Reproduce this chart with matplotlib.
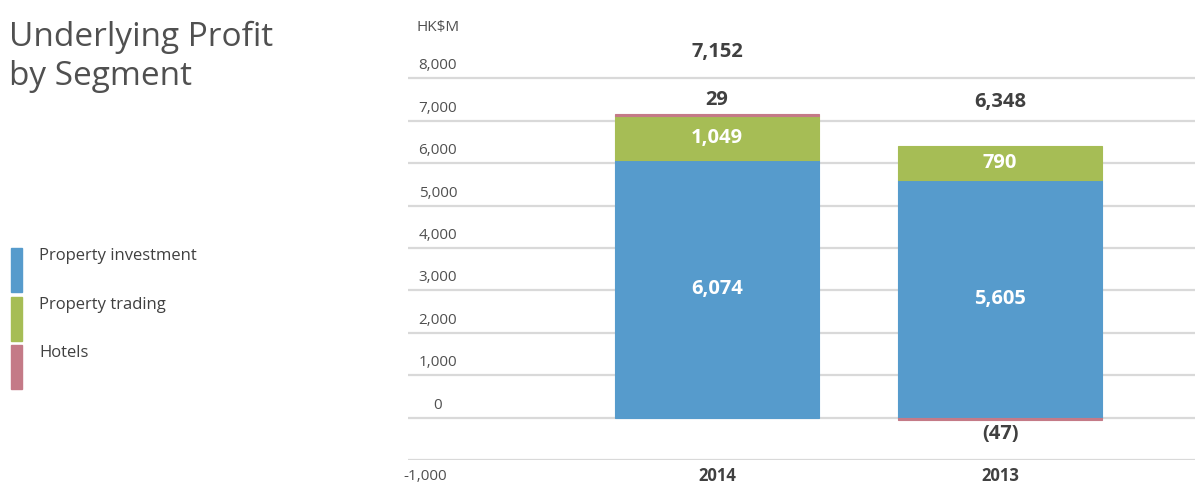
import numpy as np
import matplotlib.pyplot as plt
from matplotlib.patches import Rectangle
from matplotlib.transforms import blended_transform_factory

# data (HK$M)
years = ['2014', '2013']
segments = ['Property investment', 'Property trading', 'Hotels']
prop_investment = [6074, 5605]
prop_trading = [1049, 790]
hotels = [29, -47]
totals = [7152, 6348]
yticks = [-1000, 0, 1000, 2000, 3000, 4000, 5000, 6000, 7000, 8000]

colors = ['#569BCC', '#A6BD55', '#C47A87']
dark = '#404040'

W, H = 1195, 486
fig = plt.figure(figsize=(W / 100, H / 100), dpi=100)


def fx(px):
    return px / W


def fy(py):
    return (H - py) / H


plt.rcParams['font.family'] = ['Open Sans', 'DejaVu Sans']
bold_num = ['Liberation Sans Narrow', 'Open Sans', 'DejaVu Sans']

# axes area: -1,000 gridline at y=460px, 9,000 would be at ~36px
ax = fig.add_axes([fx(408), fy(460), fx(1195) - fx(408), fy(36) - fy(460)])
ax.set_ylim(-1000, 9000)
ax.set_xlim(-1.092, 1.689)
for s in ax.spines.values():
    s.set_visible(False)
ax.set_yticks([])
ax.set_xticks([0, 1])
ax.set_xticklabels(years, fontweight='bold', color=dark, fontsize=12, family=bold_num)
ax.tick_params(axis='x', length=0, pad=5)

# gridlines + tick labels drawn as text
for v in yticks:
    ax.axhline(v, color='#d9d9d9', lw=1.6, zorder=0)
trans = blended_transform_factory(ax.transAxes, ax.transData)
for v in yticks:
    lab = '{:,}'.format(v)
    if v < 0:
        ax.annotate(lab, (0, v), xycoords=trans, xytext=(-5, -9), textcoords='offset pixels',
                    ha='left', va='top', fontsize=11, color='#505050')
    else:
        ax.annotate(lab, (0.038, v), xycoords=trans, xytext=(0, 5), textcoords='offset pixels',
                    ha='center', va='bottom', fontsize=11, color='#505050')
ax.annotate('HK$M', (0.038, 1), xycoords='axes fraction', xytext=(0, 1), textcoords='offset pixels',
            ha='center', va='bottom', fontsize=11, color='#505050')

x = np.arange(len(years))
bw = 0.724
series = [prop_investment, prop_trading, hotels]
pos_base = np.zeros(len(years))
neg_base = np.zeros(len(years))
for vals, c in zip(series, colors):
    vals = np.array(vals, dtype=float)
    bottoms = np.where(vals >= 0, pos_base, neg_base)
    ax.bar(x, vals, bw, bottom=bottoms, color=c, edgecolor=c, lw=0.8, zorder=2)
    for i, v in enumerate(vals):
        if abs(v) >= 300:
            ax.text(x[i], bottoms[i] + v / 2, '{:,}'.format(int(v)), ha='center', va='center',
                    color='white', fontweight='bold', fontsize=14.5, family=bold_num, zorder=3)
        elif v >= 0:
            ax.annotate('{:,}'.format(int(v)), (x[i], bottoms[i] + v), xytext=(0, 4),
                        textcoords='offset pixels', ha='center', va='bottom', color=dark,
                        fontweight='bold', fontsize=14.5, family=bold_num)
        else:
            ax.annotate('({:,})'.format(int(-v)), (x[i], bottoms[i] + v), xytext=(0, -4),
                        textcoords='offset pixels', ha='center', va='top', color=dark,
                        fontweight='bold', fontsize=14.5, family=bold_num)
    pos_base = pos_base + np.where(vals >= 0, vals, 0)
    neg_base = neg_base + np.where(vals < 0, vals, 0)

# totals above each stack
total_gap = [52, 34]
for i, t in enumerate(totals):
    ax.annotate('{:,}'.format(t), (x[i], pos_base[i]), xytext=(0, total_gap[i]),
                textcoords='offset pixels', ha='center', va='bottom', color=dark,
                fontweight='bold', fontsize=14.5, family=bold_num)

# title
fig.text(fx(9), fy(21), 'Underlying Profit\nby Segment', ha='left', va='top',
         fontsize=24, color='#505050', linespacing=1.22)

# legend
sw_top = [248, 297, 345]
for name, c, top in zip(segments, colors, sw_top):
    fig.add_artist(Rectangle((fx(11), fy(top + 44)), fx(11), fy(top) - fy(top + 44),
                             color=c, transform=fig.transFigure))
    fig.text(fx(39), fy(top), name, ha='left', va='top', fontsize=12, color=dark)

fig.savefig('out.png', dpi=100)
